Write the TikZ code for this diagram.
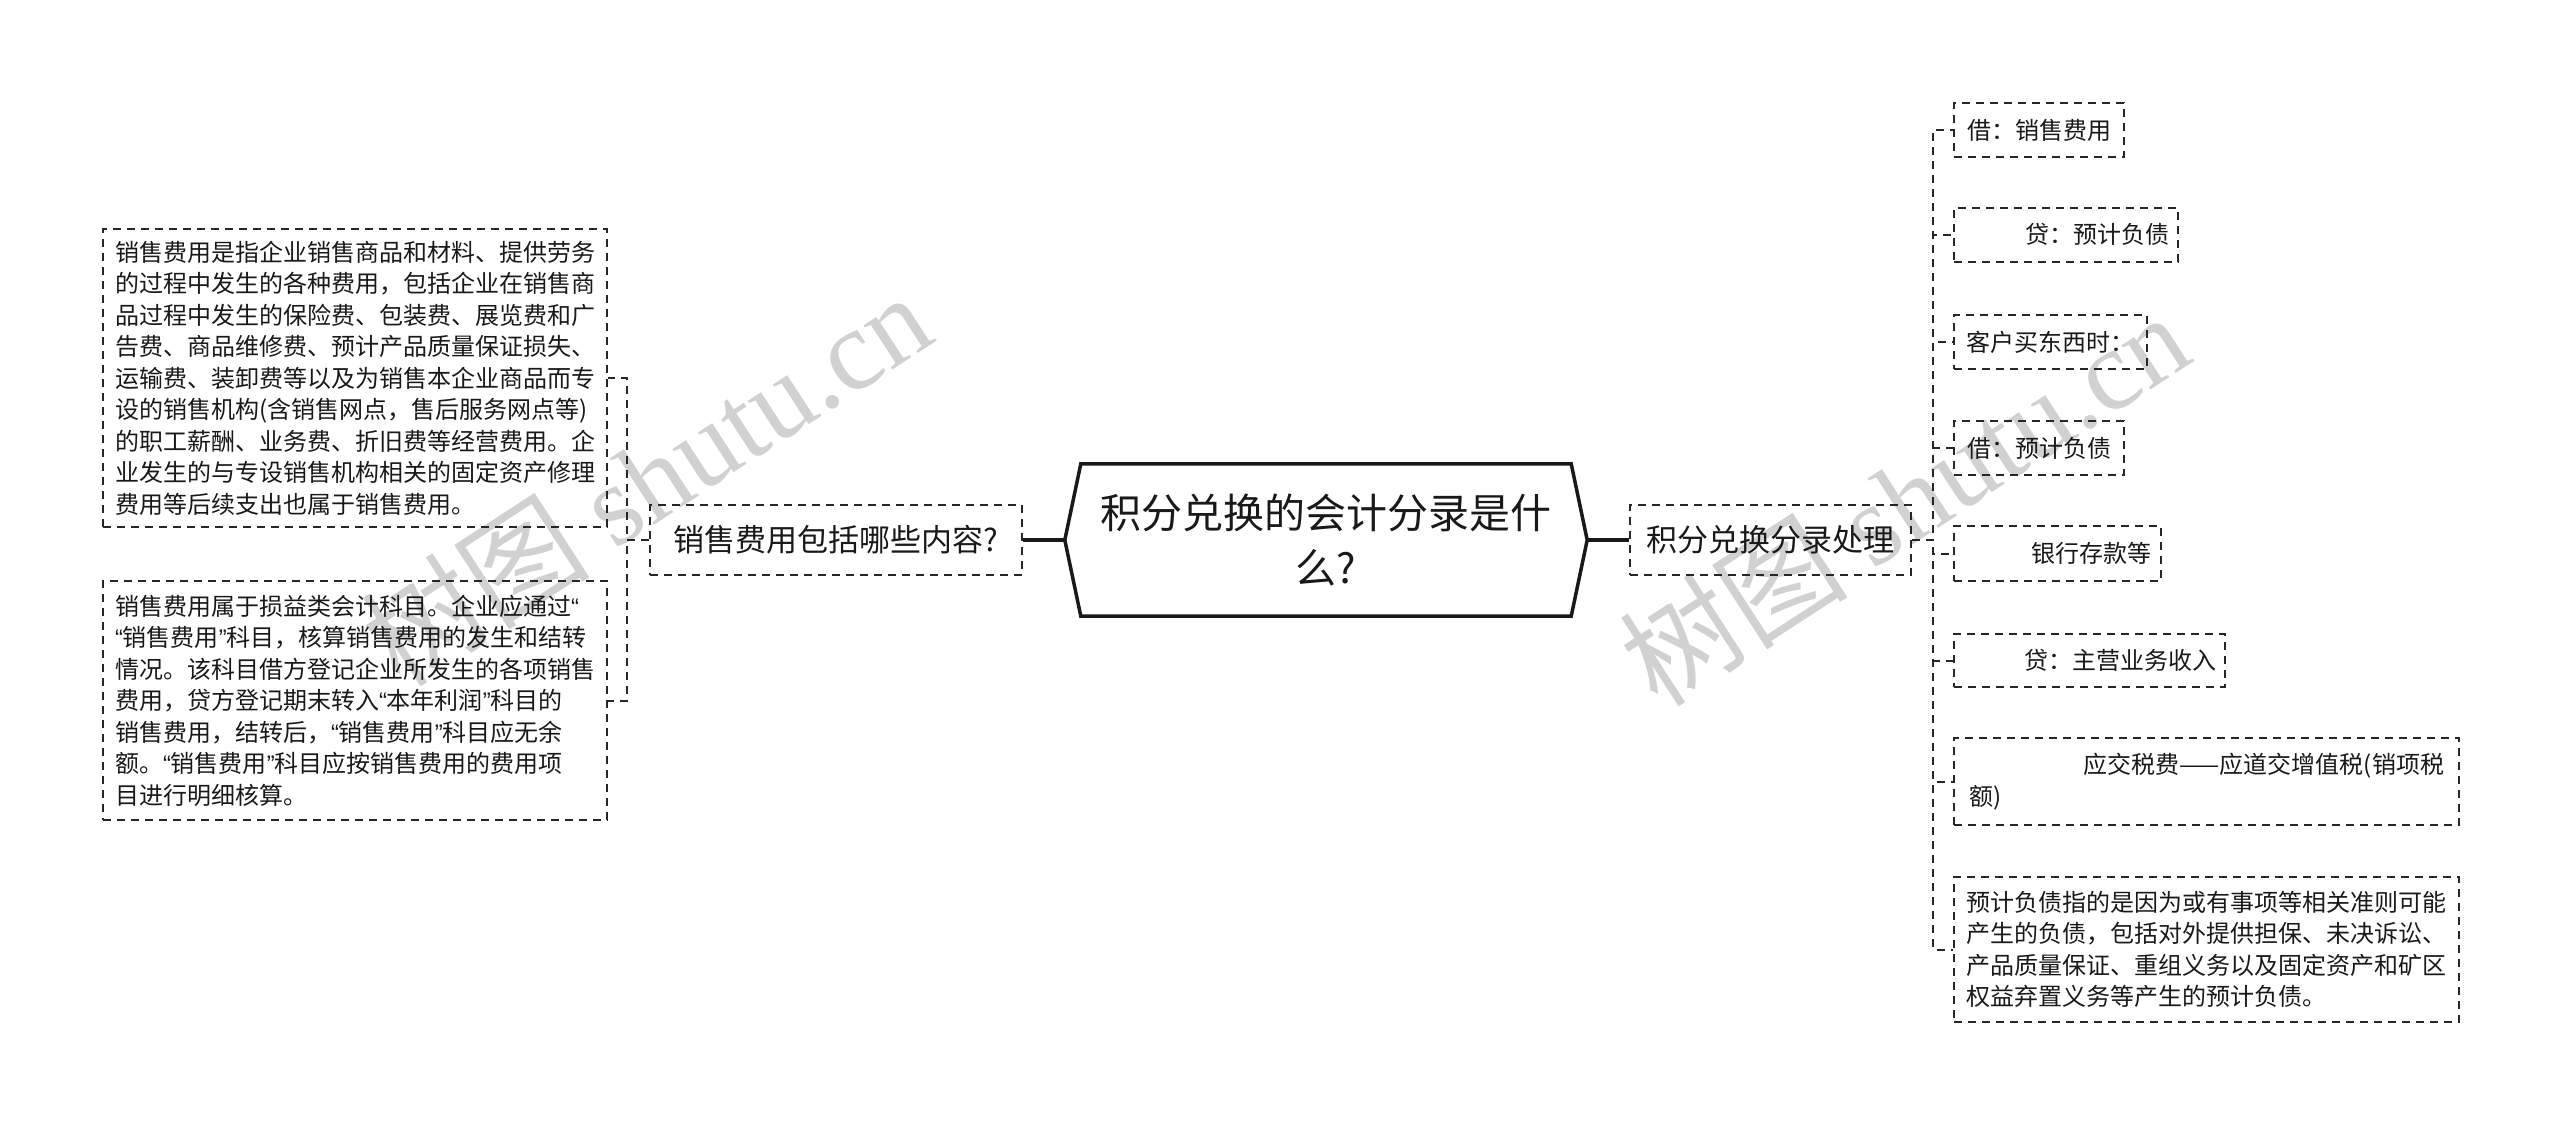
\documentclass[tikz,border=0pt]{standalone}
\usepackage{fontspec}
\setmainfont{Noto Sans CJK SC}
\newfontfamily\wmserif{Liberation Serif}
\newfontfamily\quotefnt{Liberation Sans}
\newcommand{\myoq}{{\quotefnt “}}
\newcommand{\mycq}{{\quotefnt ”}}
\usetikzlibrary{calc}
\begin{document}
\begin{tikzpicture}[x=1pt,y=-1pt,
  box/.style={draw=black!85, line width=2pt, dash pattern=on 8pt off 6pt, inner sep=0pt, text=black!90},
  leaf/.style={box, font=\fontsize{24}{31.5}\selectfont},
  mid/.style={box, font=\fontsize{31}{37}\selectfont, minimum height=70pt},
  rootstyle/.style={inner sep=0pt, align=center, text=black!90, font=\fontsize{41}{55}\selectfont, minimum width=490pt, minimum height=152pt},
  conn/.style={draw=black!85, line width=2pt, dash pattern=on 8pt off 6pt},
  solidconn/.style={draw=black!90, line width=3.5pt},
  wm/.style={text=black!18, rotate=33, anchor=base west, inner sep=0pt, font=\fontsize{115}{115}\selectfont}
]
\useasboundingbox (0,0) rectangle (2560,1127);

% watermarks
\node[wm] (wm1) at (400,690) {树图 {\wmserif shutu.cn}};
\node[wm] (wm2) at (1658,710) {树图 {\wmserif shutu.cn}};

% root
\node[rootstyle] (root) at (1326,540) {积分兑换的会计分录是什\\么?};
\draw[line width=3.5pt, line join=miter, draw=black!90] (root.north west) -- (root.north east)
  -- ($(root.east)+(16,0)$) coordinate (rootR) -- (root.south east) -- (root.south west)
  -- ($(root.west)+(-16,0)$) coordinate (rootL) -- cycle;

% level 1
\node[mid, minimum width=372pt] (ln) at (836,540) {销售费用包括哪些内容?};
\node[mid, minimum width=281pt] (rn) at (1770.5,540) {积分兑换分录处理};
\draw[solidconn] (rootL) -- (ln.east);
\draw[solidconn] (rootR) -- (rn.west);

% left leaves
\node[leaf, minimum width=504pt, minimum height=298pt, align=left] (l1) at (355,378) {销售费用是指企业销售商品和材料、提供劳务\\的过程中发生的各种费用，包括企业在销售商\\品过程中发生的保险费、包装费、展览费和广\\告费、商品维修费、预计产品质量保证损失、\\运输费、装卸费等以及为销售本企业商品而专\\设的销售机构(含销售网点，售后服务网点等)\\的职工薪酬、业务费、折旧费等经营费用。企\\业发生的与专设销售机构相关的固定资产修理\\费用等后续支出也属于销售费用。};
\node[leaf, minimum height=239pt, inner xsep=12pt, text width=480pt, align=left] (l2) at (355,700.5) {销售费用属于损益类会计科目。企业应通过\myoq\\\myoq 销售费用\mycq 科目，核算销售费用的发生和结转\\情况。该科目借方登记企业所发生的各项销售\\费用，贷方登记期末转入\myoq 本年利润\mycq 科目的\\销售费用，结转后，\myoq 销售费用\mycq 科目应无余\\额。\myoq 销售费用\mycq 科目应按销售费用的费用项\\目进行明细核算。};
\draw[conn] (ln.west) -- ++(-22,0) |- (l1.east);
\draw[conn] (ln.west) -- ++(-22,0) |- (l2.east);

% right leaves
\node[leaf, anchor=west, minimum width=170pt, minimum height=54pt] (r1) at (1953,130) {借：销售费用};
\node[leaf, anchor=west, minimum height=54pt, inner xsep=9pt, text width=206pt, align=right] (r2) at (1953,234.5) {贷：预计负债};
\node[leaf, anchor=west, minimum width=193pt, minimum height=54pt] (r3) at (1953,342) {客户买东西时：};
\node[leaf, anchor=west, minimum width=170pt, minimum height=54pt] (r4) at (1953,448) {借：预计负债};
\node[leaf, anchor=west, minimum height=55pt, inner xsep=10pt, text width=187pt, align=right] (r5) at (1953,553.5) {银行存款等};
\node[leaf, anchor=west, minimum height=53pt, inner xsep=9pt, text width=253pt, align=right] (r6) at (1953,660.5) {贷：主营业务收入};
\node[leaf, anchor=west, minimum height=87pt, inner xsep=15pt, text width=475pt, align=left] (r7) at (1953,781.5) {\hfill 应交税费——应道交增值税(销项税\\额)};
\node[leaf, anchor=west, minimum height=145pt, inner xsep=12pt, text width=481pt, align=left] (r8) at (1953,949.5) {预计负债指的是因为或有事项等相关准则可能\\产生的负债，包括对外提供担保、未决诉讼、\\产品质量保证、重组义务以及固定资产和矿区\\权益弃置义务等产生的预计负债。};
\foreach \k in {1,...,8}{
  \draw[conn] (rn.east) -- ++(21,0) |- (r\k.west);
}
\end{tikzpicture}
\end{document}
